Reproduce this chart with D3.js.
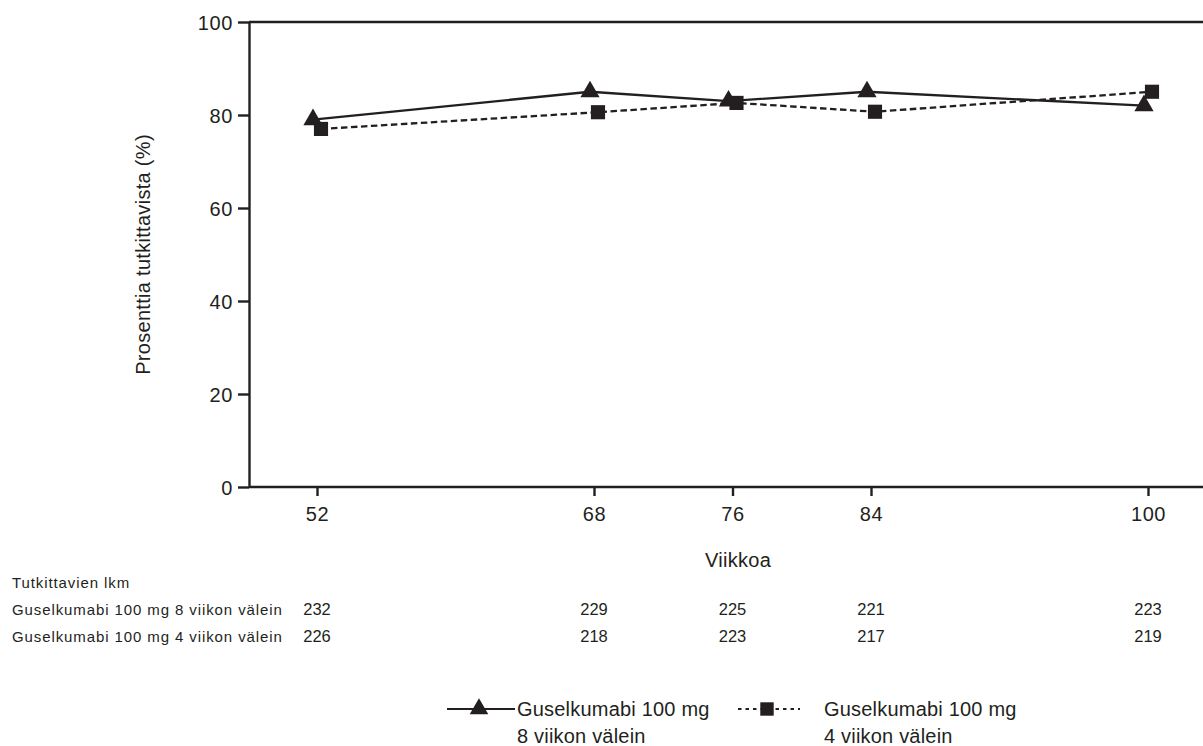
<!DOCTYPE html>
<html>
  <head>
    <meta charset="utf-8">
    <title>Guselkumabi – vaste viikoittain</title>
    <script src="https://cdn.jsdelivr.net/npm/d3@7"></script>
    <style>
      body { margin: 0; background: #fff; }
      svg { display: block; font-family: "Liberation Sans", Arial, sans-serif; fill: #231f20; }
      .axis path, .axis line { stroke: #231f20; stroke-width: 2.4; }
      .axis text { font-size: 20px; letter-spacing: 0.6px; fill: #231f20; }
      .num { font-size: 16.5px; }
      .tbl { font-size: 15px; letter-spacing: 0.9px; }
      .legend text { font-size: 20px; letter-spacing: 0.2px; }
      .title { font-size: 20px; letter-spacing: 0.3px; }
    </style>
  </head>

  <body>
    <svg id="chart" width="1203" height="746"></svg>

    <script>
      // data
      weeks = [52, 68, 76, 84, 100];
      q8w = [79, 85, 83, 85, 82];          // Guselkumabi 100 mg 8 viikon välein
      q4w = [77, 80.6, 82.6, 80.7, 85];     // Guselkumabi 100 mg 4 viikon välein
      nQ8w = [232, 229, 225, 221, 223];
      nQ4w = [226, 218, 223, 217, 219];
      yTicks = [0, 20, 40, 60, 80, 100];
      rowLabels = ["Guselkumabi 100 mg 8 viikon välein", "Guselkumabi 100 mg 4 viikon välein"];
      legendLabels = [["Guselkumabi 100 mg", "8 viikon välein"], ["Guselkumabi 100 mg", "4 viikon välein"]];

      chart = d3.select("#chart");
      margin = { top: 22, right: 0, bottom: 259, left: 249 };
      width = 1203;
      height = 746;

      x = d3.scaleLinear()
        .domain([52, 100])
        .range([317, 1148]);
      y = d3.scaleLinear()
        .domain([0, 100])
        .range([height - margin.bottom, margin.top]);

      // frame: top line and x baseline across full width
      chart.append("line")
        .attr("x1", margin.left).attr("x2", width)
        .attr("y1", margin.top).attr("y2", margin.top)
        .attr("stroke", "#231f20").attr("stroke-width", 2.4);

      xAxis = d3.axisBottom(x)
        .tickValues(weeks)
        .tickSize(9)
        .tickPadding(8)
        .tickSizeOuter(0);
      xAxisGroup = chart.append("g")
        .attr("class", "axis")
        .attr("transform", "translate(0, " + y(0) + ")")
        .call(xAxis);
      xAxisGroup.select(".domain")
        .attr("d", "M" + margin.left + ",0H" + width);
      xAxisGroup.selectAll("text").attr("dy", "0.85em");

      yAxis = d3.axisLeft(y)
        .tickValues(yTicks)
        .tickSize(11)
        .tickPadding(5)
        .tickSizeOuter(0);
      chart.append("g")
        .attr("class", "axis")
        .attr("transform", "translate(" + margin.left + ", 0)")
        .call(yAxis)
        .selectAll("text").attr("dy", "0.36em");

      // axis titles
      chart.append("text")
        .attr("class", "title")
        .attr("transform", "translate(150, " + ((y(0) + y(100)) / 2) + ") rotate(-90)")
        .attr("text-anchor", "middle")
        .text("Prosenttia tutkittavista (%)");
      chart.append("text")
        .attr("class", "title")
        .attr("x", 738).attr("y", 567)
        .attr("text-anchor", "middle")
        .text("Viikkoa");

      // series
      series = [
        { values: q8w, dash: null, shape: d3.symbolTriangle, dx: -4 },
        { values: q4w, dash: "6.5,3.5", shape: d3.symbolSquare, dx: 4 }
      ];
      line = d3.line();

      series.forEach(function(s) {
        pts = weeks.map(function(w, i) {
          return [x(w) + s.dx, y(s.values[i])];
        });
        chart.append("path")
          .attr("d", line(pts))
          .attr("fill", "none")
          .attr("stroke", "#231f20")
          .attr("stroke-width", 2.3)
          .attr("stroke-dasharray", s.dash);
        chart.selectAll(null)
          .data(pts)
          .enter().append("path")
            .attr("transform", function(d) { return "translate(" + d[0] + "," + d[1] + ")"; })
            .attr("d", d3.symbol().type(s.shape).size(s.shape === d3.symbolSquare ? 200 : 160))
            .attr("fill", "#231f20");
      });

      // numbers at risk table
      chart.append("text")
        .attr("class", "tbl")
        .attr("x", 12).attr("y", 588)
        .text("Tutkittavien lkm");
      [nQ8w, nQ4w].forEach(function(row, r) {
        yy = 615 + r * 27;
        chart.append("text")
          .attr("class", "tbl")
          .attr("x", 12).attr("y", yy)
          .text(rowLabels[r]);
        chart.selectAll(null)
          .data(row)
          .enter().append("text")
            .attr("class", "num")
            .attr("x", function(d, i) { return x(weeks[i]); })
            .attr("y", yy)
            .attr("text-anchor", "middle")
            .text(function(d) { return d; });
      });

      // legend
      legend = chart.append("g").attr("class", "legend");
      legendItems = [
        { x1: 447, x2: 515, mx: 479, tx: 517, dash: null, shape: d3.symbolTriangle },
        { x1: 738, x2: 800, mx: 767, tx: 824, dash: "3.5,4", shape: d3.symbolSquare }
      ];
      legendItems.forEach(function(l, i) {
        legend.append("line")
          .attr("x1", l.x1).attr("x2", l.x2)
          .attr("y1", 709).attr("y2", 709)
          .attr("stroke", "#231f20")
          .attr("stroke-width", 2)
          .attr("stroke-dasharray", l.dash);
        legend.append("path")
          .attr("transform", "translate(" + l.mx + ",709)")
          .attr("d", d3.symbol().type(l.shape).size(l.shape === d3.symbolSquare ? 180 : 150))
          .attr("fill", "#231f20");
        legend.append("text")
          .attr("x", l.tx).attr("y", 716)
          .text(legendLabels[i][0]);
        legend.append("text")
          .attr("x", l.tx).attr("y", 743)
          .text(legendLabels[i][1]);
      });
    </script>
  </body>
</html>
